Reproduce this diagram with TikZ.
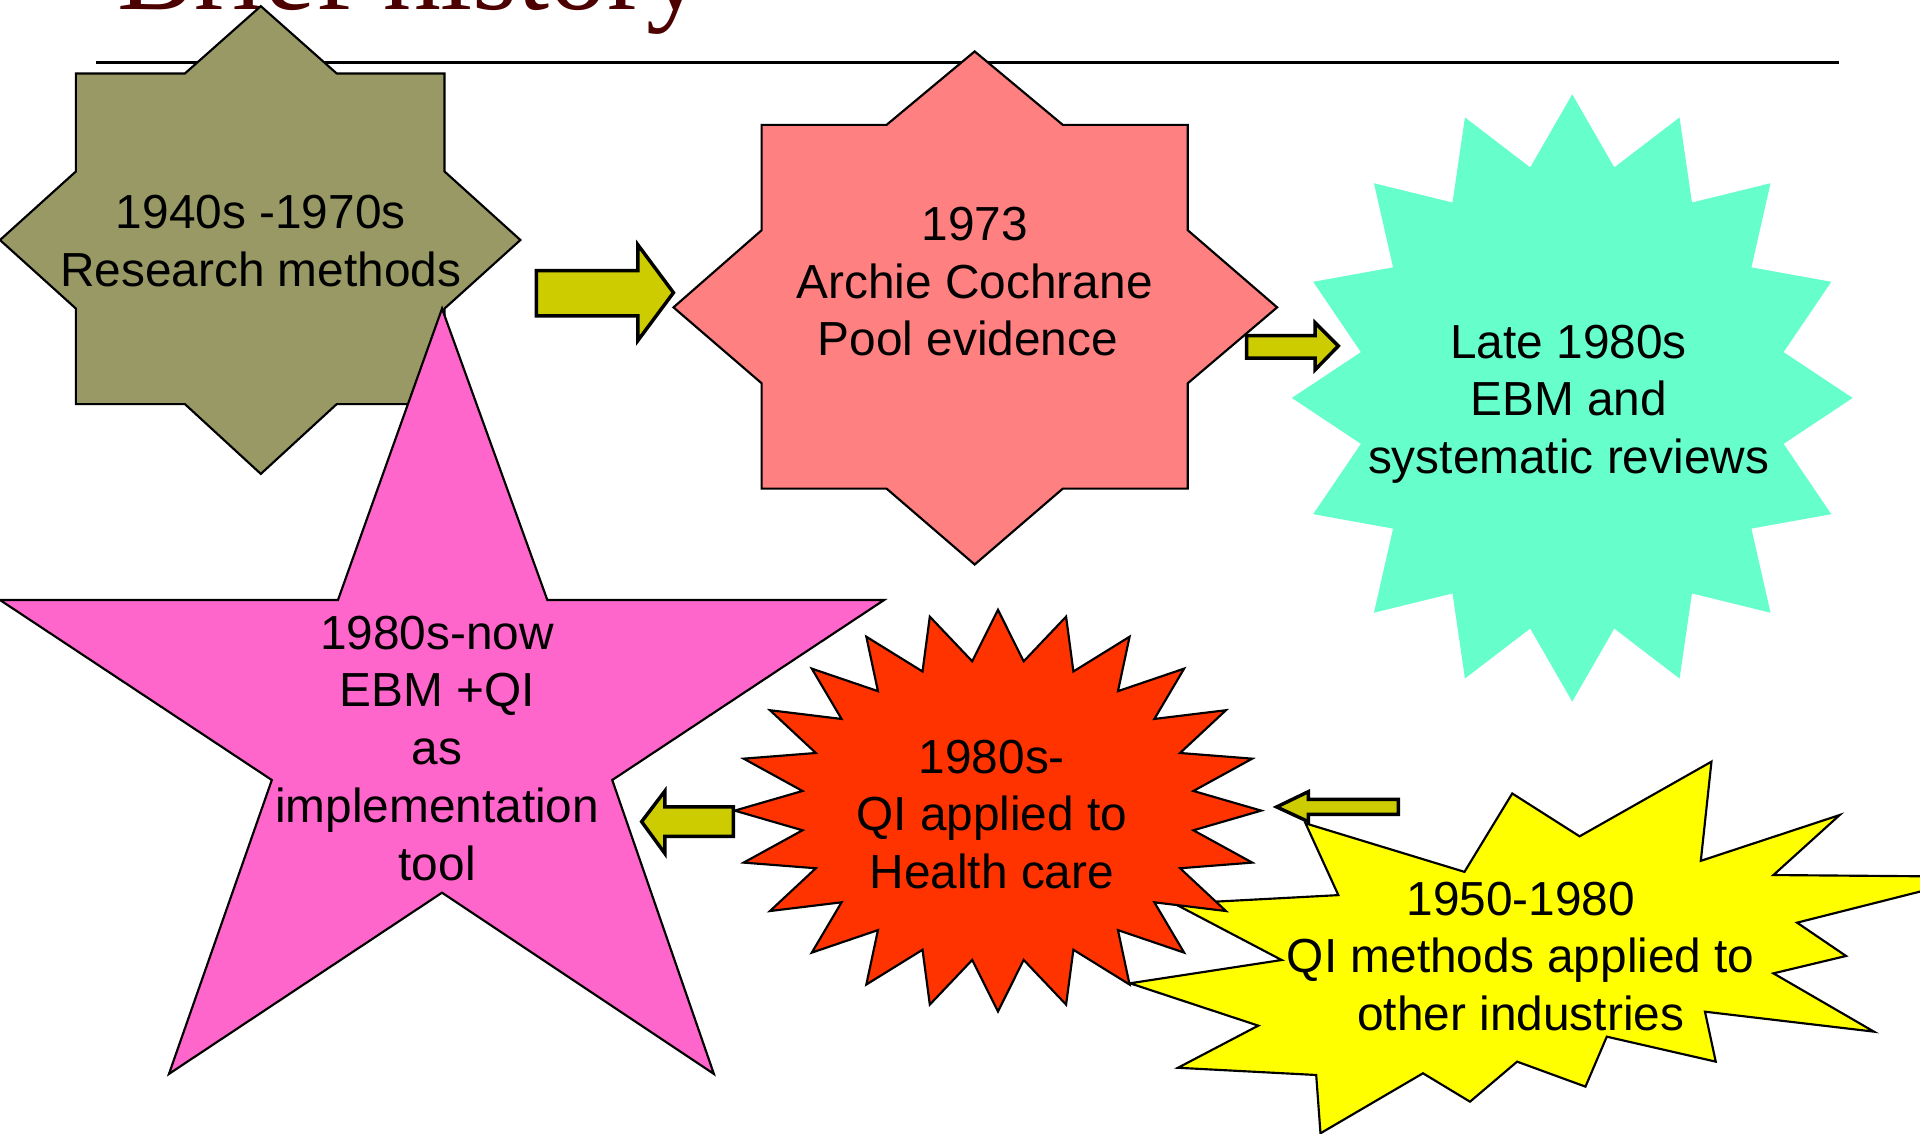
\documentclass[tikz,border=0pt]{standalone}
\usepackage{fontspec}
\setmainfont{Liberation Sans}
\newfontfamily\titlefont{Liberation Serif}
\definecolor{titlered}{RGB}{77,0,0}
\definecolor{starolive}{RGB}{153,153,102}
\definecolor{starsalmon}{RGB}{255,128,128}
\definecolor{staraqua}{RGB}{102,255,204}
\definecolor{starpink}{RGB}{255,102,204}
\definecolor{sealred}{RGB}{255,51,0}
\definecolor{blastyellow}{RGB}{255,255,0}
\definecolor{arrowfill}{RGB}{204,204,0}
\begin{document}
\begin{tikzpicture}[x=.01cm,y=-.01cm,line join=miter,
	blob/.style={draw=black,line width=.5pt},
	blockarrow/.style={fill=arrowfill,draw=black,line width=.8pt},
	txt/.style={align=center,inner sep=0pt,font=\fontsize{11.1}{13.4}\selectfont}]
	\useasboundingbox (0,0) rectangle (1568,926);
	\node[anchor=base west,inner sep=0pt,text=titlered,font=\titlefont\fontsize{26.8}{31}\selectfont] (title) at (95,8) {Brief history};
	\draw[line width=.7pt] (78,51) -- (1502,51);
	\filldraw[blob,fill=starolive] (213,5) -- (275,60) -- (363,60) -- (363,140) -- (425,196) -- (363,252) -- (363,330) -- (275,330)
	-- (213,387) -- (151,330) -- (62,330) -- (62,252) -- (0,196) -- (62,140) -- (62,60) -- (151,60) -- cycle;
	\node[txt] (early) at (213,197) {1940s -1970s\\Research methods};
	\filldraw[blob,fill=starpink] (361,252) -- (447,490) -- (722,490) -- (500,637) -- (583,877) -- (361,729) -- (138,877)
	-- (222,637) -- (0,490) -- (276,490) -- cycle;
	\filldraw[blob,fill=starsalmon] (796,42) -- (868,102) -- (970,102) -- (970,188) -- (1043,251) -- (970,313) -- (970,399) -- (868,399)
	-- (796,461) -- (724,399) -- (622,399) -- (622,313) -- (550,251) -- (622,188) -- (622,102) -- (724,102) -- cycle;
	\fill[staraqua] (1284,77) \foreach \k in {0,...,15}{ -- ({1284+176*sin(22.5*\k+11.25)},{325-192*cos(22.5*\k+11.25)})
	-- ({1284+229*sin(22.5*\k+22.5)},{325-248*cos(22.5*\k+22.5)}) } -- cycle;
	\filldraw[blob,fill=blastyellow] (1397.7,622) -- (1389,703) -- (1502.4,665.6) -- (1448.3,714.6) -- (1616,716) -- (1467.6,753.5)
	-- (1507.6,780.7) -- (1448.3,794.9) -- (1530.4,842.5) -- (1392.4,826.2) -- (1401.2,867) -- (1312.2,846.6) -- (1294.8,887.4)
	-- (1239,867) -- (1200.5,899.7) -- (1162.1,876.5) -- (1078.4,925.5) -- (1074.9,877.9) -- (962,872) -- (1027.6,837.6)
	-- (922.8,803) -- (1046.7,784) -- (959.3,738.1) -- (1093,731) -- (1066.2,672.4) -- (1196,712) -- (1235,648) -- (1290,683) -- cycle;
	\filldraw[blob,fill=sealred] (815,498) \foreach \k in {0,...,23}{ -- ({815+161*sin(15*\k+7.5)},{662-123*cos(15*\k+7.5)})
	-- ({815+215*sin(15*\k+15)},{662-164*cos(15*\k+15)}) } -- cycle;
	\filldraw[blockarrow] (438,221) -- (521,221) -- (521,200) -- (550,239) -- (521,278) -- (521,258) -- (438,258) -- cycle;
	\filldraw[blockarrow] (1018,274) -- (1074,274) -- (1074,263.5) -- (1093,282.5) -- (1074,302) -- (1074,292.5) -- (1018,292.5) -- cycle;
	\filldraw[blockarrow] (524,671) -- (543,646) -- (543,659) -- (599,659) -- (599,683) -- (543,683) -- (543,697) -- cycle;
	\filldraw[blockarrow] (1042.6,659) -- (1068.5,646.5) -- (1068.5,652.8) -- (1142,652.8) -- (1142,665) -- (1068.5,665) -- (1068.5,671) -- cycle;
	\node[txt] (cochrane) at (796,230) {1973\\Archie Cochrane\\Pool evidence\hspace*{.28em}};
	\node[txt] (reviews) at (1281,330) {Late 1980s\\EBM and\\systematic reviews};
	\node[txt] (now) at (357,611) {1980s-now\\EBM +QI\\as\\implementation\\tool};
	\node[txt] (health) at (810,665) {1980s-\\QI applied to\\Health care};
	\node[txt] (industry) at (1242,781) {1950-1980\\QI methods applied to\\other industries};
\end{tikzpicture}
\end{document}
